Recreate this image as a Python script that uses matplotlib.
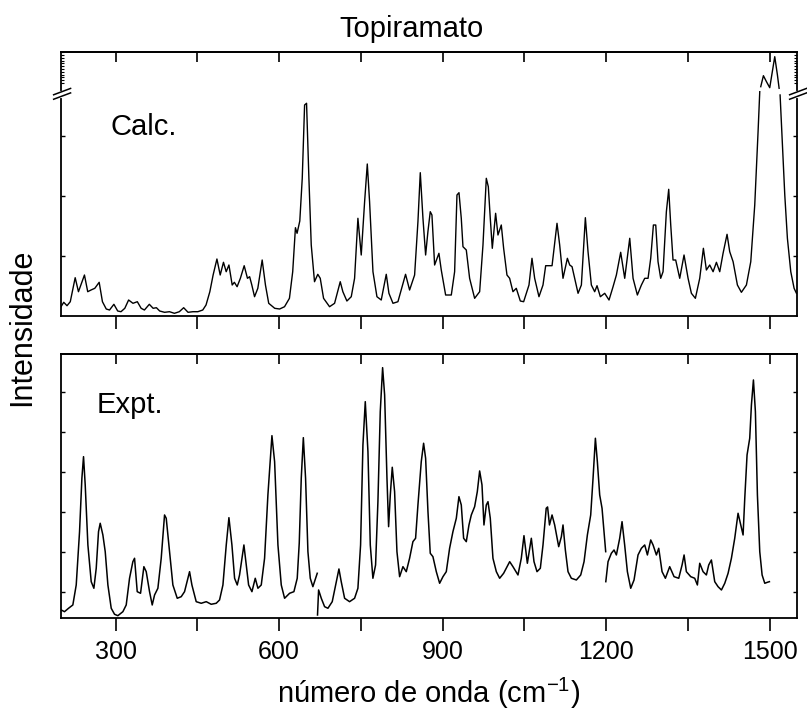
import numpy as np
import matplotlib.pyplot as plt
from matplotlib.ticker import MultipleLocator, FuncFormatter

nan = np.nan

# calculated spectrum (wavenumber, intensity in arbitrary units); nan marks the axis break
calc_x = [200, 205, 211, 217, 226, 232, 243, 249, 255, 262,
          270, 276, 283, 289, 297, 304, 310, 317, 324, 332,
          340, 347, 353, 362, 369, 375, 381, 390, 399, 408,
          417, 425, 433, 442, 451, 460, 466, 473, 479, 486,
          492, 498, 503, 508, 514, 518, 523, 529, 536, 542,
          546, 550, 555, 561, 569, 575, 581, 592, 601, 610,
          619, 625, 630, 633, 638, 642.5, 646.8, 650.4, 654.7, 659,
          665, 671, 675.5, 681.6, 692.6, 701.8, 712.2, 717, 724.4, 732.4,
          738.5, 744.6, 750.7, 756.9, 761.8, 766, 772.2, 779.5, 787.4, 796.6,
          801.5, 808.9, 818, 832, 839.4, 848.6, 854.7, 859, 863.9, 868.8,
          873, 877.3, 880.4, 885.3, 893.2, 897.5, 905.5, 915.9, 922, 926.3,
          930, 934.2, 937.3, 943.4, 949.5, 958.7, 967.9, 974, 980.1, 983.8,
          987.4, 991.1, 997.2, 1001.5, 1007.6, 1011.9, 1018, 1022.9, 1029, 1035.1,
          1042.5, 1048.6, 1058.4, 1063.9, 1068.8, 1076.7, 1084.1, 1089, 1096.3, 1100.7,
          1109.8, 1114.7, 1120.8, 1128.8, 1133.1, 1137.4, 1142.2, 1148.4, 1154.5, 1161.8,
          1166.7, 1172.8, 1178.9, 1183.2, 1189.3, 1197.3, 1205.2, 1212.6, 1218.7, 1226.6,
          1234, 1243.2, 1249.3, 1257.2, 1264.6, 1270.7, 1276.8, 1281.7, 1286.6, 1290.9,
          1295.1, 1300, 1304.3, 1310.4, 1314.7, 1318.4, 1322.6, 1327.5, 1334.9, 1342.8,
          1350.2, 1356.3, 1363.6, 1371.6, 1378.3, 1383.8, 1389.9, 1396.1, 1402.2, 1408.3,
          1414.4, 1421.7, 1426.6, 1432.8, 1440.7, 1448, 1457.2, 1465.2, 1472.5, 1478.6,
          1481.7, nan, 1483.5, 1488.4, 1494, 1500, 1509.2, 1514.1, 1517.2, nan,
          1519, 1522.7, 1527.6, 1532.4, 1538.6, 1544.7, 1549]
calc_y = [9.3, 13.7, 10.3, 14.3, 38.3, 24.3, 41, 24.3, 26, 27.7,
          33.7, 14.3, 7, 6, 11.7, 5, 4.3, 7.7, 16, 12.7,
          14.3, 7.7, 6, 11.7, 7.7, 8.3, 5, 3.7, 4.3, 2.7,
          4.3, 8.3, 3.7, 4.3, 4.3, 6, 11, 24.3, 41, 57,
          41, 53.7, 44.3, 51, 31, 33.7, 29.3, 37.7, 50.3, 37.7,
          39.3, 31, 19.3, 27.7, 56, 31, 12.7, 7.7, 7, 9.3,
          17.7, 44.3, 88.3, 82.7, 95, 137.7, 211, 212.7, 137.7, 71,
          34.3, 41.7, 37.7, 17.7, 9.3, 12.7, 34.3, 24.3, 15, 19.3,
          37.7, 97.7, 61, 114.3, 152, 114.3, 44.3, 19.3, 16, 41.7,
          22.7, 12.7, 14.3, 41.7, 26, 41, 94.3, 143.3, 97.7, 61,
          84.3, 104.3, 101, 51, 62.7, 46, 21, 21, 44.3, 121,
          123.3, 97.7, 69.3, 66, 37.7, 17.7, 24.3, 71, 137.7, 129.3,
          97.7, 67.7, 102.7, 81, 91, 67.7, 41, 37.7, 24.3, 27.7,
          15, 14.3, 31, 57.7, 37.7, 19.3, 31, 50.3, 50.3, 50.3,
          92.7, 71, 37.7, 57.7, 51, 49.3, 37.7, 22.7, 31, 98.3,
          64.3, 31, 24.3, 30.3, 19.3, 22.7, 16, 29.3, 41, 63.7,
          37.7, 77.7, 37.7, 21, 31, 37.7, 37.7, 57.7, 91, 91,
          54.3, 37.7, 44.3, 104.3, 126.7, 91, 56, 56, 37.7, 61,
          37.7, 22.7, 17.7, 37.7, 67.7, 46, 51, 44.3, 53.7, 44.3,
          62.7, 81.7, 64.3, 54.3, 31, 23.7, 31, 54.3, 111, 184.3,
          224.3, nan, 229.3, 240.3, 234.3, 228.3, 259.3, 241, 227.7, nan,
          221, 177.7, 121, 77.7, 44.3, 27.7, 22.7]

# experimental spectrum; nan marks the joins between recorded windows
expt_x = [200.3, 206.4, 213.8, 221.7, 227.9, 234, 238.3, 241.3, 244.4, 249.3,
          255.4, 260.3, 264.6, 268.8, 271.9, 276.8, 281.1, 286, 292.1, 298.2,
          304.3, 313.5, 319.6, 325.7, 331.8, 334.9, 339.8, 345.9, 352, 356.3,
          362.4, 367.3, 371.6, 377.7, 383.8, 389.9, 393, 399.1, 405.2, 413.2,
          420.5, 426.6, 435.8, 440.1, 448, 457.2, 466.4, 475.5, 484.7, 490.8,
          497, 503.1, 508, 513.5, 518.4, 523.3, 527.5, 535.5, 539.8, 544.1,
          550.2, 556.3, 561.2, 567.3, 573.4, 579.5, 586.9, 591.8, 597.9, 604,
          610.1, 619.3, 627.2, 633.3, 637, 640.7, 644.5, 648.6, 652.9, 657.2,
          662, 667, 670, nan, 670.5, 672.5, 677.4, 683.5, 689.6, 697.5,
          703.7, 709.8, 714, 720.2, 729.3, 738.5, 744.6, 749.5, 753.8, 758.1,
          763, 767.3, 772.1, 777, 781.3, 785.6, 789.9, 793.6, 797.9, 800.9,
          804, 807.6, 811.9, 816.2, 821.1, 827.2, 833.3, 839.4, 845.5, 850.4,
          854.7, 860.8, 865.1, 868.8, 873.1, 877.3, 882.2, 888.4, 894.5, 900.6,
          906.7, 912.8, 918.9, 925.1, 929.9, 934.2, 938.5, 943.4, 948.3, 952.6,
          958.7, 963.6, 967.9, 972.2, 975.8, 980.1, 983.2, 987.4, 992.3, 998.5,
          1004.6, 1011.9, 1023, 1029, 1038.2, 1044.3, 1049.2, 1055.4, 1062.7, 1067.6,
          1073.1, 1079.2, 1084.1, 1090, 1092.5, 1096, 1100.7, 1105.5, 1112.9, 1117.8,
          1120.8, 1125.1, 1130, 1136.1, 1145.3, 1153.3, 1159.4, 1165.5, 1171.6, 1175.9,
          1180.2, 1183.8, 1188.1, 1192.4, 1196.1, 1199.1, nan, 1199.3, 1203.4, 1209.5,
          1214.4, 1218.7, 1224.8, 1229.1, 1233.9, 1238.9, 1245, 1251.1, 1258.4, 1264.6,
          1270.7, 1275.6, 1281.7, 1286, 1292.1, 1296.4, 1302.5, 1308.6, 1316.5, 1324.5,
          1333.1, 1339.2, 1342.9, 1347.1, 1355.1, 1362.4, 1367.3, 1371.6, 1377.7, 1383.8,
          1388.1, 1393, 1399.1, 1405.2, 1411.4, 1417.5, 1423.6, 1429.7, 1435.8, 1441.9,
          1446.8, 1451.1, 1454.2, 1458.4, 1463.3, 1466.4, 1470.1, 1473.7, 1477.4, 1481.7,
          1486, 1490.9, 1495.8, 1499.4]
expt_y = [8, 6.3, 9.7, 13, 33, 86.3, 139.7, 161.3, 133, 73,
          36.3, 29.7, 49.7, 86.3, 94.7, 83, 66.3, 33, 9.7, 3.7,
          2.3, 6.3, 13, 39.7, 56.3, 59.7, 26.3, 24.7, 51.3, 46.3,
          26.3, 13, 23, 29.7, 59.7, 103, 99.7, 66.3, 33, 19.7,
          21.3, 26.3, 46.3, 33, 16.3, 14.7, 16.3, 13.7, 14.7, 18,
          33, 73, 100.3, 73, 39.7, 33, 43, 73, 53, 33,
          26.3, 39.7, 29.7, 33, 59.7, 123, 182.3, 156.3, 73, 33,
          19.7, 24.7, 26.3, 39.7, 75, 140, 180.3, 139.7, 66.3, 39.7,
          31.3, 39.7, 44.7, nan, 3, 28, 19.7, 11.3, 9.7, 16.3,
          33, 49, 36.3, 19.7, 16.3, 19.7, 29.7, 73, 173, 216.3,
          166.3, 73, 39.7, 53, 116.3, 206.3, 250.3, 223, 139.7, 91.3,
          123, 150.7, 126.3, 66.3, 41.3, 51.3, 46.3, 59.7, 76.3, 79.7,
          113, 156.3, 174.7, 159.7, 106.3, 64.7, 61.3, 46.3, 34.7, 41.3,
          46.3, 69.7, 86.3, 99.7, 121.3, 113, 79.7, 76.3, 93, 103,
          111.3, 126.3, 147, 133, 93, 113, 116.3, 99.7, 59.7, 46.3,
          39.7, 44.7, 56.3, 51.3, 43, 59.7, 82.3, 54.7, 79.7, 56.3,
          46.3, 49.7, 73, 109.7, 111, 93, 103, 93, 71.3, 81.3,
          93, 68, 46.3, 39.7, 38, 43, 56.3, 83, 103, 139.7,
          179.7, 156.3, 123, 109.7, 86.3, 66.3, nan, 36.3, 56.3, 64.7,
          68, 63, 79.7, 96.3, 73, 46.3, 29.7, 38, 63, 69.7,
          73, 63, 78, 73, 63, 69.7, 46.3, 39.7, 51.3, 41.3,
          39.7, 53, 63, 46.3, 41.3, 39.7, 33, 54.7, 46.3, 43,
          53, 58, 36.3, 31.3, 28, 34.7, 44.7, 59.7, 79.7, 104.7,
          93, 83, 119.7, 163, 179.7, 213, 238, 206.3, 123, 66.3,
          43, 34.7, 35.7, 36.3]

plt.rcParams.update({
    "font.family": "sans-serif",
    "font.sans-serif": ["Liberation Sans", "DejaVu Sans"],
    "mathtext.fontset": "custom",
    "mathtext.rm": "Liberation Sans",
    "mathtext.it": "Liberation Sans:italic",
    "axes.linewidth": 1.3,
})

fig = plt.figure(figsize=(8.07, 7.2), dpi=100)
ax1 = fig.add_axes([0.0756, 0.5611, 0.912, 0.3667])
ax2 = fig.add_axes([0.0756, 0.1417, 0.912, 0.3667])

ax1.plot(calc_x, calc_y, color="black", lw=1.0)
ax2.plot(expt_x, expt_y, color="black", lw=1.1)

label_300 = FuncFormatter(lambda v, p: f"{v:.0f}" if v % 300 == 0 else "")

for ax in (ax1, ax2):
    ax.set_xlim(200, 1550)
    ax.set_ylim(0, 264)
    ax.xaxis.set_major_locator(MultipleLocator(150))
    ax.tick_params(axis="x", which="major", direction="out", length=9, width=1.2,
                   top=False, labelsize=18, pad=7)
    ax.tick_params(axis="y", which="both", direction="in", left=True, right=True,
                   labelleft=False, length=3, width=1.0)
    top = ax.secondary_xaxis("top")
    top.xaxis.set_major_locator(MultipleLocator(150))
    top.tick_params(direction="in", length=7, width=1.2, labeltop=False)
    top.spines["top"].set_linewidth(1.3)

ax1.set_yticks([60, 120, 180])
ax1.set_yticks(np.arange(233, 264, 2.8), minor=True)
ax1.tick_params(axis="y", which="minor", length=2, width=0.8)
ax1.tick_params(axis="x", labelbottom=False)
ax2.set_yticks(np.arange(26, 240, 40))
ax2.xaxis.set_major_formatter(label_300)

# axis break marks on the top panel
for xs in (0.0, 1.0):
    ax1.plot([xs, xs], [0.834, 0.845], transform=ax1.transAxes, color="white",
             lw=3, clip_on=False, zorder=5)
    for dy in (0.0, -0.017):
        ax1.plot([xs - 0.010, xs + 0.013], [0.838 + dy, 0.862 + dy],
                 transform=ax1.transAxes, color="black", lw=1.1,
                 clip_on=False, zorder=6)

ax1.text(0.0666, 0.686, "Calc.", transform=ax1.transAxes, fontsize=21,
         va="baseline", ha="left")
ax2.text(0.049, 0.776, "Expt.", transform=ax2.transAxes, fontsize=21,
         va="baseline", ha="left")

fig.text(0.5095, 0.949, "Topiramato", fontsize=21, ha="center", va="baseline")
fig.text(0.5316, 0.037, "número de onda (cm$^{-1}$)", fontsize=21,
         ha="center", va="center")
fig.text(0.027, 0.546, "Intensidade", fontsize=22, rotation=90,
         ha="center", va="center")

fig.savefig("out.png", dpi=100)
